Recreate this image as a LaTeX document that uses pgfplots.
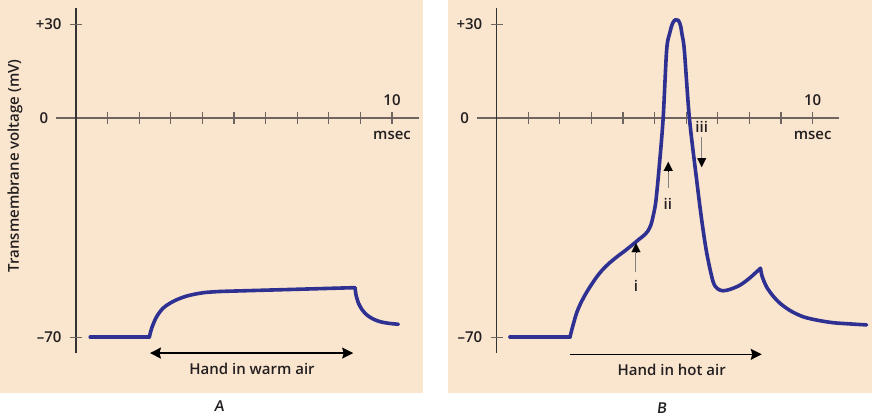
\documentclass[border=0pt]{standalone}
\usepackage{pgfplots}
\pgfplotsset{compat=1.18}
\usepackage{fontspec}
\setmainfont{Open Sans}
\newfontfamily\semib{Open Sans Semibold}
\newfontfamily\semibsl{Open Sans Semibold}[FakeSlant=0.12]
\usetikzlibrary{arrows.meta}
\definecolor{peach}{HTML}{FAE5CF}
\definecolor{curve}{HTML}{2E3192}
\definecolor{axgray}{HTML}{6E6560}
\definecolor{txt}{HTML}{231F20}
\tikzset{lab/.style={font=\semib\fontsize{15}{18}\selectfont, text=txt, inner sep=1pt}}
\pgfplotsset{
  panel/.style={scale only axis, height=393pt, ymin=-87.86, ymax=37.7,
    axis line style={draw=none}, xtick=\empty, ytick=\empty,
    axis background/.style={fill=peach}, clip=false},
  trace/.style={curve, line width=3.6pt, line join=round, line cap=round, mark=none},
}
\newcommand{\axesdeco}{%
  \draw[axgray, line width=1.1pt] (axis cs:-0.63,0) -- (axis cs:10.85,0);
  \draw[black!80, line width=1.1pt] (axis cs:0,35.1) -- (axis cs:0,-75.1);
  \pgfplotsinvokeforeach{1,...,10}{\draw[axgray, line width=1.1pt] (axis cs:##1,-1.9) -- (axis cs:##1,1.9);}
  \draw[axgray, line width=1.1pt] (axis cs:-0.19,30) -- (axis cs:0.19,30);
  \draw[axgray, line width=1.1pt] (axis cs:-0.19,-70) -- (axis cs:0.19,-70);
  \node[lab, anchor=east] at (axis cs:-0.42,30) {+30};
  \node[lab, anchor=east] at (axis cs:-0.84,0) {0};
  \node[lab, anchor=east] at (axis cs:-0.42,-70) {–70};
  \node[lab] at (axis cs:10,5.75) {10};
  \node[lab] at (axis cs:10,-5.6) {msec};
}
\begin{document}
\begin{tikzpicture}[font=\semib\fontsize{15}{18}\selectfont]
\useasboundingbox (0,0) rectangle (872pt,418pt);
% ---------- Panel A ----------
\begin{axis}[panel, at={(0pt,418pt)}, anchor=north west, width=423pt,
  xmin=-2.405, xmax=10.98]
\axesdeco
\addplot[trace] coordinates {(0.45,-70) (2.32,-70)};
\addplot[trace, smooth] coordinates {(2.32,-70) (2.4,-67) (2.55,-63.5) (2.75,-60.8) (2.97,-59.2) (3.2,-58) (3.5,-56.9) (3.8,-56.2) (4.13,-55.7) (4.6,-55.4)};
\addplot[trace] coordinates {(4.6,-55.4) (8.83,-54.2)};
\addplot[trace, smooth] coordinates {(8.83,-54.2) (8.86,-56.5) (8.94,-59.2) (9.05,-61.2) (9.2,-62.9) (9.4,-64.2) (9.63,-65.1) (9.9,-65.6) (10.2,-65.9)};
\draw[{Stealth[length=11pt,width=11pt,inset=1.5pt]}-{Stealth[length=11pt,width=11pt,inset=1.5pt]}, line width=1.3pt] (axis cs:2.34,-75.1) -- (axis cs:8.77,-75.1);
\node[lab] at (axis cs:5.57,-80.3) {Hand in warm air};
\node[lab] at (axis cs:4.53,-92) {\semibsl\fontsize{15}{18}\selectfont A};
\node[lab, rotate=90] at (axis cs:-1.93,-15.3) {Transmembrane voltage (mV)};
\end{axis}
% ---------- Panel B ----------
\begin{axis}[panel, at={(448pt,418pt)}, anchor=north west, width=424pt,
  xmin=-1.54, xmax=11.88]
\axesdeco
\addplot[trace] coordinates {(0.42,-70) (2.32,-70)};
\addplot[trace, smooth] coordinates {(2.32,-70) (2.38,-67.6) (2.45,-65.0) (2.53,-62.3) (2.65,-59.4) (2.8,-56.5) (2.95,-54.0) (3.15,-51.0) (3.35,-48.5) (3.55,-46.5) (3.8,-44.4) (4.05,-42.5) (4.3,-40.5) (4.5,-38.8) (4.65,-37.6) (4.78,-36.2) (4.88,-34.2) (4.96,-31) (5.04,-26.5) (5.15,-15) (5.27,0) (5.38,21.7) (5.48,27.2) (5.57,30.3) (5.66,31.4) (5.75,31.2) (5.82,29.5) (5.87,26.5) (5.94,21.7) (6.1,0) (6.33,-19.8) (6.49,-32.6) (6.65,-43.2) (6.85,-52.3) (7.0,-54.6) (7.17,-55.2) (7.4,-54.7) (7.7,-53.4) (8.0,-51.2) (8.35,-48.0)};
\addplot[trace, smooth] coordinates {(8.35,-48.0) (8.4,-50.5) (8.54,-53.9) (8.75,-56.9) (8.97,-59.2) (9.3,-61.6) (9.7,-63.5) (10.15,-64.6) (10.65,-65.4) (11.2,-65.8) (11.71,-66.1)};
\draw[-{Stealth[length=11pt,width=11pt,inset=1.5pt]}, line width=1.3pt] (axis cs:2.32,-75.5) -- (axis cs:8.39,-75.5);
\node[lab] at (axis cs:5.54,-80.5) {Hand in hot air};
\node[lab] at (axis cs:5.22,-92.6) {\semibsl\fontsize{15}{18}\selectfont B};
% arrows i, ii, iii
\draw[gray, line width=1pt] (axis cs:4.41,-49.2) -- (axis cs:4.41,-43);
\draw[-{Triangle[length=9pt,width=9pt]}, line width=0.1pt, black] (axis cs:4.41,-43) -- (axis cs:4.41,-40);
\node[lab] at (axis cs:4.41,-53.6) {i};
\draw[gray, line width=1pt] (axis cs:5.43,-22.4) -- (axis cs:5.43,-17);
\draw[-{Triangle[length=9pt,width=9pt]}, line width=0.1pt, black] (axis cs:5.43,-17) -- (axis cs:5.43,-14);
\node[lab] at (axis cs:5.42,-27.5) {ii};
\draw[gray, line width=1pt] (axis cs:6.49,-6.2) -- (axis cs:6.49,-12.7);
\draw[-{Triangle[length=9pt,width=9pt]}, line width=0.1pt, black] (axis cs:6.49,-12.7) -- (axis cs:6.49,-15.7);
\node[lab] at (axis cs:6.49,-2.8) {iii};
\end{axis}
\end{tikzpicture}
\end{document}
